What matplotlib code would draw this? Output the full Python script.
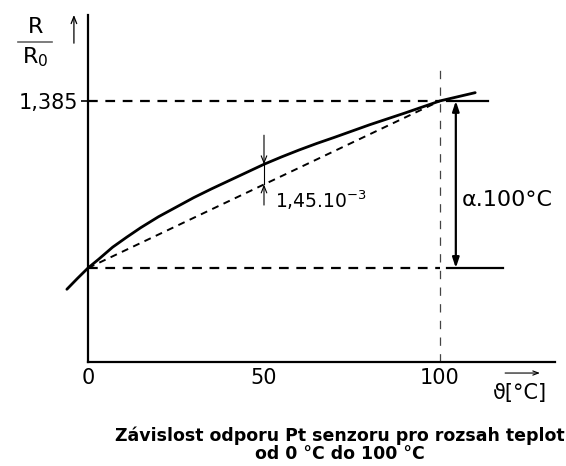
import matplotlib
matplotlib.use("Agg")
import matplotlib.pyplot as plt

plt.rcParams['font.family'] = ['DejaVu Sans']
plt.rcParams['mathtext.fontset'] = 'dejavusans'
plt.rcParams['lines.scale_dashes'] = False

# data
temp = [-6, -3, 0, 3, 7, 11, 15, 20, 25, 30, 35, 40, 45, 50, 55, 60, 65, 70, 80, 90, 100, 110]
ratio = [0.951, 0.976, 1.0, 1.020, 1.048, 1.071, 1.093, 1.118, 1.140, 1.162, 1.182,
         1.201, 1.220, 1.239, 1.256, 1.272, 1.287, 1.301, 1.330, 1.357, 1.385, 1.404]
chord_t = [0, 100]
chord_r = [1.0, 1.385]
ref_r0 = 1.0
ref_r100 = 1.385
ref_t = 100
xticks = [0, 50, 100]
xtick_labels = ['0', '50', '100']
ytick_labels = ['1,385']
diff_label = r'1,45.10$^{-3}$'
alpha_label = 'α.100°C'
caption = 'Závislost odporu Pt senzoru pro rozsah teplot\nod 0 °C do 100 °C'

fig = plt.figure(figsize=(5.66, 4.66), dpi=100)
ax = fig.add_axes([0, 0, 1, 1])
ax.set_xlim(-25, 135.8)
ax.set_ylim(0.5438, 1.6175)

ymin_axis = 0.783
ymax_axis = 1.583
xmax_axis = 132.7

for s in ['top', 'right']:
    ax.spines[s].set_visible(False)
ax.spines['left'].set_position(('data', 0))
ax.spines['left'].set_bounds(ymin_axis, ymax_axis)
ax.spines['bottom'].set_position(('data', ymin_axis))
ax.spines['bottom'].set_bounds(0, xmax_axis)
ax.spines['left'].set_linewidth(1.6)
ax.spines['bottom'].set_linewidth(1.6)

ax.set_xticks(xticks)
ax.set_xticklabels(xtick_labels, fontsize=15)
ax.tick_params(axis='x', length=0, pad=4)
ax.set_yticks([ref_r100])
ax.set_yticklabels(ytick_labels, fontsize=15)
ax.tick_params(axis='y', length=10, width=1.2, direction='inout', pad=2)

# main curve
ax.plot(temp, ratio, color='black', lw=2.0, solid_capstyle='round', solid_joinstyle='round')
# chord
ax.plot(chord_t, chord_r, color='black', lw=1.4, linestyle=(0, (5, 4)))
# horizontal dashed references
ax.plot([0, ref_t], [ref_r100, ref_r100], color='black', lw=1.6, linestyle=(0, (7, 5.5)))
ax.plot([0, ref_t], [ref_r0, ref_r0], color='black', lw=1.6, linestyle=(0, (7, 5.5)))
# solid stubs
ax.plot([102, 113.6], [ref_r100, ref_r100], color='black', lw=1.6)
ax.plot([102, 117.9], [ref_r0, ref_r0], color='black', lw=1.6)
# vertical dashed at 100
ax.plot([ref_t, ref_t], [ymin_axis, 1.475], color='#444444', lw=0.9, linestyle=(0, (6, 6)))

# double arrow alpha.100
ax.annotate('', xy=(104.5, ref_r0), xytext=(104.5, ref_r100),
            arrowprops=dict(arrowstyle='<|-|>,head_length=0.6,head_width=0.2',
                            color='black', lw=1.6, shrinkA=0, shrinkB=0))
ax.text(106.3, 1.157, alpha_label, fontsize=16, ha='left', va='center')

# small arrows at 50
c50 = ratio[temp.index(50)]
ch50 = chord_r[0] + (chord_r[1] - chord_r[0]) * 50 / 100
ax.annotate('', xy=(50, c50), xytext=(50, 1.306),
            arrowprops=dict(arrowstyle='->,head_length=0.5,head_width=0.2',
                            color='black', lw=0.8, shrinkA=0, shrinkB=0))
ax.annotate('', xy=(50, ch50), xytext=(50, 1.145),
            arrowprops=dict(arrowstyle='->,head_length=0.5,head_width=0.2',
                            color='black', lw=0.8, shrinkA=0, shrinkB=0))
ax.plot([50, 50], [ch50, c50], color='black', lw=0.8)
ax.text(53.1, 1.157, diff_label, fontsize=13.5, ha='left', va='center')

# y label fraction
ax.text(-15.0, 1.556, 'R', fontsize=16, ha='center', va='center')
ax.plot([-19.9, -10.2], [1.521, 1.521], color='#666666', lw=1.2)
ax.text(-15.0, 1.485, r'R$_0$', fontsize=16, ha='center', va='center')
ax.annotate('', xy=(-4.0, 1.583), xytext=(-4.0, 1.518),
            arrowprops=dict(arrowstyle='->,head_length=0.5,head_width=0.2',
                            color='black', lw=0.9, shrinkA=0, shrinkB=0))

# x label
ax.annotate('', xy=(128.4, 0.758), xytext=(118.5, 0.758),
            arrowprops=dict(arrowstyle='->,head_length=0.4,head_width=0.15',
                            color='black', lw=0.8, shrinkA=0, shrinkB=0))
ax.text(122.7, 0.712, 'ϑ[°C]', fontsize=15, ha='center', va='center')

# caption
ax.text(71.6, 0.593, caption, fontsize=12.5, fontweight='bold', ha='center',
        va='center', linespacing=0.95)

fig.savefig('out.png', dpi=100)
